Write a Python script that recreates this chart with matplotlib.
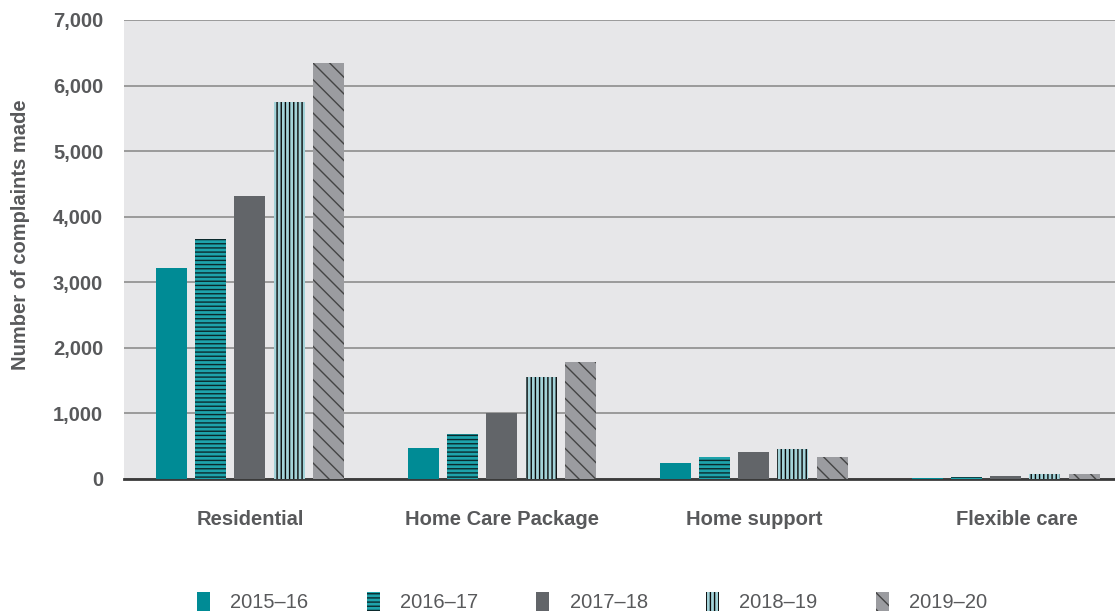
import numpy as np
import matplotlib.pyplot as plt
from matplotlib.patches import Patch

plt.rcParams['font.family'] = ['Liberation Sans', 'DejaVu Sans']
plt.rcParams['hatch.linewidth'] = 1.0

# data
categories = ["Residential", "Home Care Package", "Home support", "Flexible care"]
years = ["2015–16", "2016–17", "2017–18", "2018–19", "2019–20"]
v_2015 = [3220, 470, 240, 20]
v_2016 = [3660, 680, 330, 30]
v_2017 = [4310, 1000, 410, 45]
v_2018 = [5750, 1550, 450, 80]
v_2019 = [6340, 1790, 330, 80]
values = [v_2015, v_2016, v_2017, v_2018, v_2019]
yticks = [0, 1000, 2000, 3000, 4000, 5000, 6000, 7000]

# styles
faces = ["#008b95", "#1ea3ab", "#626569", "#a3d3d9", "#9b9ca0"]
hatches = [None, "----", None, "||||", "\\\\"]
hcols = ["#008b95", "#0b2a2d", "#626569", "#0a0a0a", "#444444"]
txt = "#58595b"

fig = plt.figure(figsize=(11.15, 6.14), dpi=100)
ax = fig.add_axes([124/1115, 1-479/614, 1-124/1115, 459/614])
ax.set_facecolor("#e7e7e9")

x = np.arange(len(categories))
w = 0.123
step = 0.155
for i in range(len(years)):
    ax.bar(x + (i-2)*step, values[i], width=w, color=faces[i],
           hatch=hatches[i], edgecolor=hcols[i], linewidth=0, zorder=3)

ax.set_ylim(0, 7000)
ax.set_xlim(-0.5, 3.433)
ax.set_yticks(yticks)
ax.set_yticklabels([f"{t:,}" for t in yticks], fontsize=14.5, fontweight="bold", color=txt)
ax.set_xticks(x + np.array([0, 0, 0, 0.045]))
ax.set_xticklabels(categories, fontsize=14.5, fontweight="bold", color=txt)
ax.tick_params(axis="both", length=0)
ax.tick_params(axis="y", pad=15)
ax.tick_params(axis="x", pad=22)
ax.grid(axis="y", color="#9a9a9a", linewidth=1.4, zorder=0)
for s in ["top", "right", "left"]:
    ax.spines[s].set_visible(False)
ax.spines["bottom"].set_color("#3a3a3a")
ax.spines["bottom"].set_linewidth(2)
ax.spines["bottom"].set_zorder(2.5)

ax.set_ylabel("Number of complaints made", fontsize=14.5, fontweight="bold", color=txt)
ax.yaxis.set_label_coords(-0.095, 0.533)

handles = [Patch(facecolor=faces[i], hatch=hatches[i], edgecolor=hcols[i], linewidth=0)
           for i in range(len(years))]
leg = fig.legend(handles, years, loc="center", bbox_to_anchor=(0.531, 1-602/614), ncol=5,
                 frameon=False, handlelength=0.65, handleheight=1.05, handletextpad=1.0,
                 columnspacing=2.9, prop={"size": 14.5})
for t in leg.get_texts():
    t.set_color(txt)

fig.savefig("out.png", dpi=100)
